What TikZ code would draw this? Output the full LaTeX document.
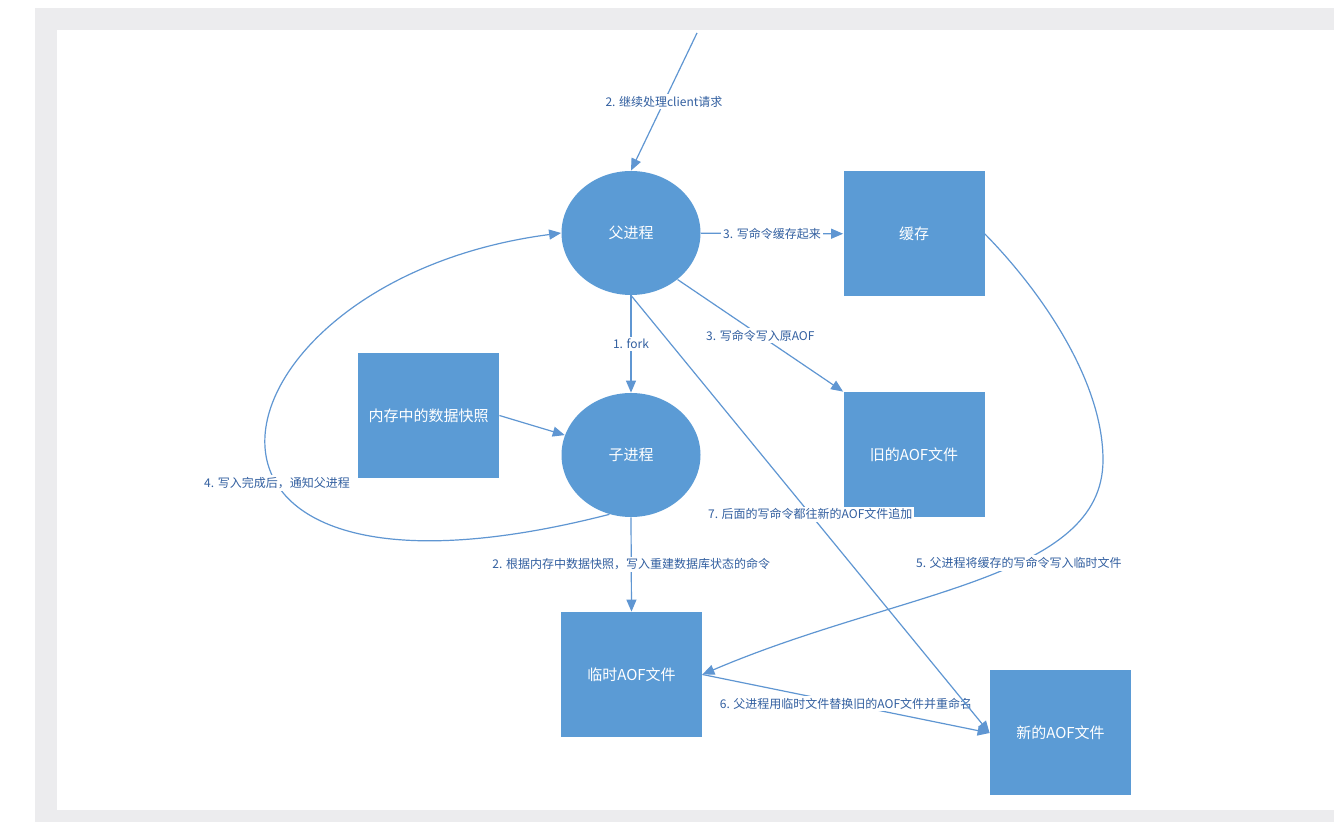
\documentclass[tikz,border=0pt]{standalone}
\usepackage{fontspec}
\setmainfont{Noto Sans CJK SC}
\usetikzlibrary{shapes.geometric,arrows.meta}
\definecolor{boxblue}{RGB}{91,155,213}
\definecolor{lineblue}{RGB}{95,150,210}
\definecolor{textblue}{RGB}{50,95,160}
\definecolor{pagegrey}{RGB}{236,236,238}

\begin{document}
\begin{tikzpicture}[x=0.5pt, y=-0.5pt, >={Triangle[length=6pt,width=5pt]},
  proc/.style={ellipse, fill=boxblue, text=white, minimum width=69.5pt,
    minimum height=62pt, inner sep=0pt, font=\fontsize{7.5}{9}\selectfont},
  file/.style={rectangle, fill=boxblue, text=white, minimum width=70.5pt,
    minimum height=62.5pt, inner sep=1pt, font=\fontsize{7.5}{9}\selectfont},
  lbl/.style={fill=white, text=textblue, inner sep=1pt,
    font=\fontsize{6}{7}\selectfont},
  flow/.style={draw=lineblue, line width=0.6pt, ->}]
  % Page frame (screenshot margins).
  \useasboundingbox (0,0) rectangle (1334,822);
  \fill[white] (0,0) rectangle (1334,822);
  \fill[pagegrey] (35,8) rectangle (1334,822);
  \fill[white] (57,30) rectangle (1334,810);

  % Processes and files.
  \node[proc] (parent) at (631,233) {父进程};
  \node[proc] (child) at (631,455) {子进程};
  \node[file] (cache) at (914,234) {缓存};
  \node[file] (snap) at (428.5,415.5) {内存中的数据快照};
  \node[file] (oldaof) at (914,454.5) {旧的AOF文件};
  \node[file] (tmpaof) at (631.5,674.5) {临时AOF文件};
  \node[file] (newaof) at (1060.5,733) {新的AOF文件};
  \coordinate (client) at (697,33);

  % Parent side.
  \draw[flow] (client) -- node[lbl] {2. 继续处理client请求} (parent.north);
  \draw[flow] (parent) -- node[lbl] {3. 写命令缓存起来} (cache);
  \draw[flow] (parent.-45) -- node[lbl] {3. 写命令写入原AOF} (oldaof.north west);
  \draw[flow] (parent) -- node[lbl] {1. fork} (child);

  % Child side.
  \draw[flow] (snap.east) -- (child);
  \draw[flow] (child.south) -- node[lbl] {2. 根据内存中数据快照，写入重建数据库状态的命令} (tmpaof.north);
  \draw[flow] (child.250) .. controls (120,640) and (200,280) ..
    node[lbl, pos=0.4] {4. 写入完成后，通知父进程} (parent.west);

  % Rewrite finishing.
  \draw[flow] (cache.east) .. controls (1040,290) and (1103,380) .. (1103,460)
    .. controls (1103,580) and (900,590) ..
    node[lbl, pos=0.4] {5. 父进程将缓存的写命令写入临时文件} (tmpaof.east);
  \draw[flow] (tmpaof.east) -- node[lbl] {6. 父进程用临时文件替换旧的AOF文件并重命名} (newaof.west);
  \draw[flow] (parent.south) -- node[lbl] {7. 后面的写命令都往新的AOF文件追加} (newaof.west);
\end{tikzpicture}
\end{document}
